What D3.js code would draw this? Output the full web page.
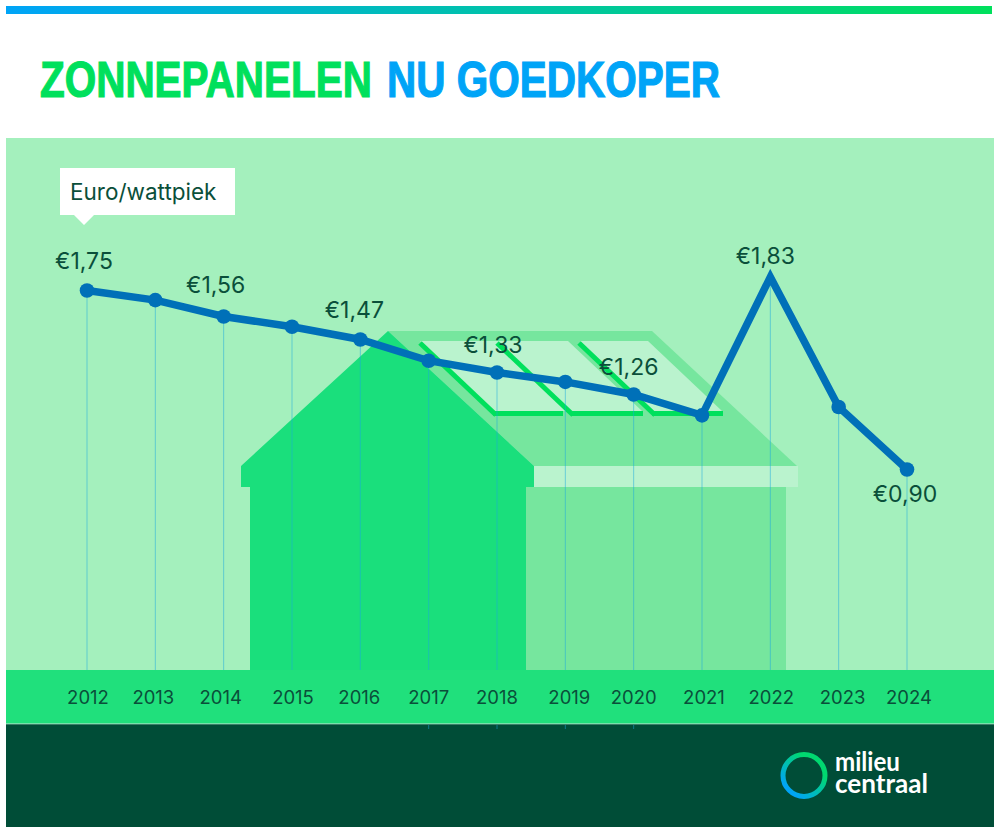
<!DOCTYPE html>
<html>
<head>
<meta charset="utf-8">
<script src="https://cdn.jsdelivr.net/npm/d3@7"></script>
<style>
  html, body { margin: 0; padding: 0; background: #fff; }
  svg { display: block; }
  text { font-family: "Inter", sans-serif; fill: #0a4f3a; }
</style>
</head>
<body>
<div id="chart"></div>
<script>
const years = [2012, 2013, 2014, 2015, 2016, 2017, 2018, 2019, 2020, 2021, 2022, 2023, 2024];
const prices = [1.75, 1.68, 1.56, 1.52, 1.47, 1.38, 1.33, 1.30, 1.26, 1.16, 1.83, 1.20, 0.90];
const labelledYears = [2012, 2014, 2016, 2018, 2020, 2022, 2024];
const titleWords = ['ZONNEPANELEN', 'NU GOEDKOPER'];
const unitLabel = 'Euro/wattpiek';
const logoWords = ['milieu', 'centraal'];

const width = 999;
const height = 833;

const svg = d3.select('#chart')
  .append('svg')
  .attr('width', width)
  .attr('height', height);

const defs = svg.append('defs');
const topGradient = defs.append('linearGradient').attr('id', 'top-gradient');
topGradient.append('stop').attr('offset', '0%').attr('stop-color', '#00a4f7');
topGradient.append('stop').attr('offset', '100%').attr('stop-color', '#00e05c');

const ringGradient = defs.append('linearGradient')
  .attr('id', 'ring-gradient')
  .attr('x1', '15%').attr('y1', '85%')
  .attr('x2', '70%').attr('y2', '25%');
ringGradient.append('stop').attr('offset', '0%').attr('stop-color', '#00a4f7');
ringGradient.append('stop').attr('offset', '100%').attr('stop-color', '#00d870');

// The picture's vertical axis is not linear, so the scale is calibrated on the labelled prices
const x = d3.scaleLinear().domain([2012, 2024]).range([87, 907]);
const y = d3.scaleLinear()
  .domain([0.90, 1.26, 1.33, 1.47, 1.56, 1.75, 1.83])
  .range([469.5, 394.5, 372.5, 339.5, 316.5, 290.5, 277]);

// Squeeze a text horizontally to a given width, keeps its box honest unlike textLength
const fitWidth = (selection, left, baseline, targetWidth) => {
  selection.attr('transform', function (d, i) {
    const natural = this.getComputedTextLength();
    return `translate(${left(d, i)},${baseline(d, i)}) scale(${targetWidth(d, i) / natural},1)`;
  });
};

// Frame
svg.append('rect').attr('x', 6).attr('y', 6).attr('width', 986).attr('height', 8)
  .attr('fill', 'url(#top-gradient)');
svg.append('rect').attr('x', 6).attr('y', 138).attr('width', 988).attr('height', 532)
  .attr('fill', '#a4f0bd');

// Title, two separate texts so each colour can be fitted to its own width
const titleSpans = [
  { text: titleWords[0], x: 40, length: 332, colour: '#00e05c' },
  { text: titleWords[1], x: 387, length: 333, colour: '#00a4f7' }
];
svg.selectAll('text.title')
  .data(titleSpans)
  .enter()
  .append('text')
  .attr('class', 'title')
  .style('font-family', '"Liberation Sans Narrow", "Liberation Sans", sans-serif')
  .style('font-weight', 700)
  .style('font-size', '50px')
  .style('fill', (d) => d.colour)
  .style('stroke', (d) => d.colour)
  .style('stroke-width', 1.2)
  .text((d) => d.text)
  .call(fitWidth, (d) => d.x, () => 97, (d) => d.length);

// House
const house = svg.append('g').attr('class', 'house');
const roofLine = d3.line();
house.append('path')
  .attr('d', roofLine([[388, 331], [652, 331], [797, 466], [534, 466]]) + 'Z')
  .attr('fill', '#76e69e');
house.append('rect').attr('x', 534).attr('y', 466).attr('width', 264).attr('height', 21)
  .attr('fill', '#baf3ce');
house.append('rect').attr('x', 526).attr('y', 487).attr('width', 260).attr('height', 183)
  .attr('fill', '#76e69e');

// Solar panels
const panels = [
  [[420, 341], [568, 341], [642, 411], [494, 411]],
  [[580, 341], [648, 341], [722, 411], [652, 411]]
];
house.selectAll('path.panel')
  .data(panels)
  .enter()
  .append('path')
  .attr('class', 'panel')
  .attr('d', (d) => roofLine(d) + 'Z')
  .attr('fill', '#baf3ce');

const panelEdges = [
  [[420, 343], [496, 415]],
  [[497, 343], [573, 415]],
  [[579, 343], [655, 415]]
];
house.selectAll('line.panel-edge')
  .data(panelEdges)
  .enter()
  .append('line')
  .attr('class', 'panel-edge')
  .attr('x1', (d) => d[0][0]).attr('y1', (d) => d[0][1])
  .attr('x2', (d) => d[1][0]).attr('y2', (d) => d[1][1])
  .attr('stroke', '#00e05c')
  .attr('stroke-width', 5);

const panelBases = [[493, 563], [571, 643], [652, 723]];
house.selectAll('rect.panel-base')
  .data(panelBases)
  .enter()
  .append('rect')
  .attr('class', 'panel-base')
  .attr('x', (d) => d[0]).attr('y', 411)
  .attr('width', (d) => d[1] - d[0]).attr('height', 5)
  .attr('fill', '#00e05c');

house.append('path')
  .attr('d', roofLine([[388, 331], [534, 466], [534, 487], [526, 487], [526, 670], [250, 670], [250, 487], [241, 487], [241, 466]]) + 'Z')
  .attr('fill', '#1adf7c');

// Bottom bands
svg.append('rect').attr('x', 6).attr('y', 670).attr('width', 988).attr('height', 53.5)
  .attr('fill', '#20e07c');
svg.append('rect').attr('x', 6).attr('y', 723.5).attr('width', 988).attr('height', 0.8)
  .attr('fill', '#5fd79a');
svg.append('rect').attr('x', 6).attr('y', 724.3).attr('width', 988).attr('height', 102.7)
  .attr('fill', '#004d37');

// Drop lines
svg.selectAll('line.drop')
  .data(years)
  .enter()
  .append('line')
  .attr('class', 'drop')
  .attr('x1', (d) => x(d)).attr('x2', (d) => x(d))
  .attr('y1', (d, i) => y(prices[i]))
  .attr('y2', 670)
  .attr('stroke', '#1aa9e0')
  .attr('stroke-opacity', 0.5)
  .attr('stroke-width', 1);

// Their stubs show again under the band for a few years
svg.selectAll('line.stub')
  .data(years.filter((d) => d >= 2017 && d <= 2020))
  .enter()
  .append('line')
  .attr('class', 'stub')
  .attr('x1', (d) => x(d)).attr('x2', (d) => x(d))
  .attr('y1', 725)
  .attr('y2', 729)
  .attr('stroke', '#1aa9e0')
  .attr('stroke-opacity', 0.5);

// Price line
const priceLine = d3.line()
  .x((d, i) => x(years[i]))
  .y((d) => y(d));

svg.append('path')
  .datum(prices)
  .attr('d', priceLine)
  .attr('fill', 'none')
  .attr('stroke', '#0070b8')
  .attr('stroke-width', 7.5)
  .attr('stroke-linejoin', 'miter');

svg.selectAll('circle.point')
  .data(years.filter((d) => d !== 2022))
  .enter()
  .append('circle')
  .attr('class', 'point')
  .attr('cx', (d) => x(d))
  .attr('cy', (d) => y(prices[years.indexOf(d)]))
  .attr('r', 7.3)
  .attr('fill', '#0070b8');

// Price labels
const labelOffset = { 2012: [-3, -22], 2014: [-8, -24], 2016: [-6, -22], 2018: [-4, -20], 2020: [-5, -20], 2022: [-5, -13], 2024: [-2, 32] };
svg.selectAll('text.price')
  .data(labelledYears)
  .enter()
  .append('text')
  .attr('class', 'price')
  .attr('x', (d) => x(d) + labelOffset[d][0])
  .attr('y', (d) => y(prices[years.indexOf(d)]) + labelOffset[d][1])
  .attr('text-anchor', 'middle')
  .style('font-size', '23px')
  .text((d) => '€' + prices[years.indexOf(d)].toFixed(2).replace('.', ','));

// Year labels, hand spaced in the original
const yearNudge = { 2012: 1, 2013: -2, 2014: -3, 2015: 1, 2016: -1, 2019: 4, 2021: 2, 2022: 1, 2023: 4, 2024: 2 };
svg.selectAll('text.year')
  .data(years)
  .enter()
  .append('text')
  .attr('class', 'year')
  .attr('x', (d) => x(d) + (yearNudge[d] || 0))
  .attr('y', 704)
  .attr('text-anchor', 'middle')
  .style('font-size', '18.5px')
  .text((d) => d);

// Unit callout
svg.append('path')
  .attr('d', roofLine([[60, 168], [235, 168], [235, 215], [94, 215], [84, 225], [74, 215], [60, 215]]) + 'Z')
  .attr('fill', '#fff');
svg.append('text')
  .attr('x', 70)
  .attr('y', 200)
  .style('font-size', '22.5px')
  .text(unitLabel);

// Logo
svg.append('circle')
  .attr('cx', 804)
  .attr('cy', 775.5)
  .attr('r', 21)
  .attr('fill', 'none')
  .attr('stroke', 'url(#ring-gradient)')
  .attr('stroke-width', 5);
svg.selectAll('text.logo')
  .data(logoWords)
  .enter()
  .append('text')
  .attr('class', 'logo')
  .style('font-family', '"Lato", sans-serif')
  .style('fill', '#fff')
  .style('font-weight', 700)
  .style('font-size', '26px')
  .text((d) => d)
  .call(fitWidth, () => 835, (d, i) => 771 + i * 22, (d, i) => (i === 0 ? 65 : 93));
</script>
</body>
</html>
